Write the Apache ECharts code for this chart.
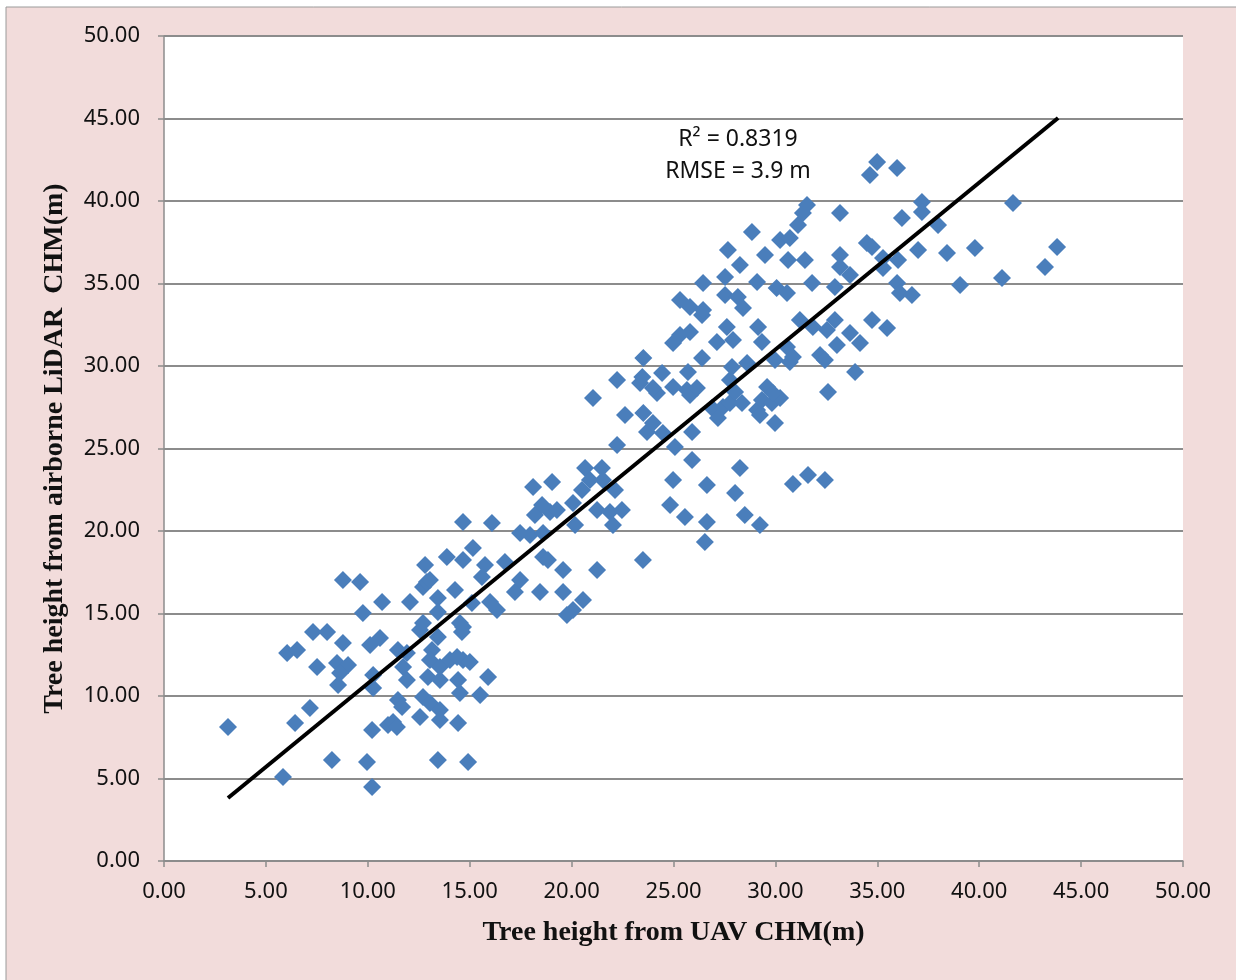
<!DOCTYPE html>
<html>
<head>
<meta charset="utf-8">
<title>UAV vs LiDAR tree height</title>
<script src="https://cdn.jsdelivr.net/npm/echarts@6/dist/echarts.min.js"></script>
<style>
  html, body { margin: 0; padding: 0; background: #ffffff; }
  #chart { width: 1236px; height: 980px; }
</style>
</head>
<body>
<div id="chart"></div>
<script>
  // tree height from UAV CHM (m)
  var uavHeight = [
    3.14, 5.84, 6.04, 6.53, 6.43, 7.16, 7.31, 7.51, 8.00, 8.24, 8.49, 8.78, 8.78, 9.03, 8.64, 8.54,
    9.62, 9.76, 9.96, 10.21, 10.21, 10.11, 10.26, 10.26, 10.60, 10.70, 10.99, 11.24, 11.43, 11.48,
    11.48, 11.68, 11.73, 11.92, 11.92, 12.07, 12.56, 12.56, 12.71, 12.81, 12.90, 12.71, 13.05, 13.15,
    13.05, 12.95, 12.71, 13.05, 13.44, 13.44, 13.44, 13.54, 13.54, 13.54, 13.54, 13.44, 13.88, 14.03,
    14.28, 14.38, 14.43, 14.43, 14.52, 14.62, 14.67, 14.67, 14.67, 14.67, 14.52, 14.92, 15.01, 15.11,
    15.16, 15.51, 15.60, 15.75, 15.90, 16.00, 16.09, 16.34, 16.73, 17.22, 17.47, 17.47, 17.96, 18.11,
    18.20, 18.45, 18.55, 18.60, 18.60, 18.84, 18.94, 19.04, 19.28, 19.58, 19.58, 19.77, 20.07, 20.07,
    20.17, 20.51, 20.56, 20.66, 20.90, 21.05, 21.25, 21.25, 21.49, 21.54, 21.88, 22.03, 22.13, 22.23,
    22.23, 22.47, 22.62, 23.36, 23.52, 23.52, 23.47, 23.50, 23.70, 23.99, 24.19, 23.99, 24.48, 24.44,
    24.98, 24.98, 24.83, 24.98, 25.07, 25.32, 25.32, 25.56, 25.66, 25.71, 25.81, 25.81, 25.81, 25.91,
    25.91, 26.15, 26.40, 26.40, 26.45, 26.45, 26.54, 26.64, 26.64, 26.89, 27.13, 27.18, 27.43, 27.53,
    27.53, 27.62, 27.67, 27.77, 27.77, 27.92, 28.02, 28.02, 28.16, 28.26, 28.26, 28.36, 28.41, 28.50,
    28.61, 28.85, 29.10, 29.10, 29.15, 29.24, 29.24, 29.34, 29.34, 29.49, 29.59, 29.83, 29.98, 29.98,
    30.06, 30.23, 30.23, 30.57, 30.57, 30.62, 30.71, 30.71, 30.86, 30.86, 31.11, 31.20, 31.35, 31.45,
    31.55, 31.60, 31.80, 31.84, 32.19, 32.43, 32.43, 32.53, 32.58, 32.92, 32.92, 33.02, 33.17, 33.17,
    33.17, 33.66, 33.66, 33.91, 34.15, 34.49, 34.74, 34.74, 34.64, 34.99, 35.28, 35.28, 35.48, 35.97,
    36.02, 35.97, 36.11, 36.21, 36.70, 37.00, 37.19, 37.19, 37.98, 38.42, 39.06, 39.79, 41.12, 41.66,
    43.23, 43.82, 27.87, 29.88
  ];
  // tree height from airborne LiDAR CHM (m)
  var lidarHeight = [
    8.12, 5.09, 12.61, 12.79, 8.36, 9.27, 13.88, 11.76, 13.88, 6.12, 12.00, 17.03, 13.21, 11.88, 11.39, 10.67,
    16.91, 15.03, 6.00, 4.48, 7.94, 13.09, 11.27, 10.48, 13.52, 15.70, 8.24, 8.42, 8.12, 12.79,
    9.76, 9.33, 11.76, 10.97, 12.61, 15.70, 14.00, 8.73, 16.61, 17.94, 16.91, 14.42, 17.03, 12.79,
    12.18, 11.15, 9.94, 9.58, 15.94, 15.09, 13.58, 11.76, 10.97, 9.15, 8.55, 6.12, 18.42, 12.18,
    16.42, 12.36, 10.97, 8.36, 14.42, 13.88, 20.55, 18.24, 14.18, 12.18, 10.18, 6.00, 12.06, 15.64,
    18.97, 10.06, 17.21, 17.94, 11.15, 15.70, 20.48, 15.21, 18.12, 16.30, 17.03, 19.88, 19.76, 22.67,
    20.97, 16.30, 21.58, 19.88, 18.42, 18.24, 21.15, 22.97, 21.27, 17.64, 16.30, 14.91, 15.21, 21.70,
    20.36, 22.48, 15.82, 23.82, 23.09, 28.06, 21.27, 17.64, 23.82, 23.09, 21.15, 20.36, 22.48, 25.21,
    29.15, 21.27, 27.03, 28.97, 30.48, 27.15, 29.33, 18.24, 26.00, 26.55, 28.36, 28.67, 25.94, 29.58,
    28.73, 23.09, 21.58, 31.39, 25.09, 34.00, 31.88, 20.85, 28.55, 29.64, 33.58, 32.06, 28.24, 26.00,
    24.30, 28.67, 33.09, 30.48, 35.03, 33.39, 19.33, 22.79, 20.55, 27.45, 31.45, 26.85, 27.52, 35.39,
    34.30, 32.36, 37.03, 29.15, 27.76, 31.58, 28.42, 22.30, 34.18, 36.12, 23.82, 27.76, 33.52, 20.97,
    30.18, 38.12, 35.09, 27.33, 32.36, 27.03, 20.36, 31.45, 27.94, 36.73, 28.73, 27.76, 30.36, 26.55,
    34.73, 37.64, 28.06, 34.42, 31.15, 36.42, 37.76, 30.24, 30.55, 22.85, 38.55, 32.79, 39.27, 36.42,
    39.76, 23.39, 35.03, 32.36, 30.67, 30.36, 23.09, 32.18, 28.42, 34.79, 32.79, 31.27, 39.27, 36.73,
    36.00, 35.52, 32.00, 29.64, 31.39, 37.45, 37.21, 32.79, 41.58, 42.36, 36.55, 35.94, 32.30, 42.00,
    36.42, 35.03, 34.42, 38.97, 34.30, 37.03, 39.94, 39.33, 38.55, 36.85, 34.91, 37.15, 35.33, 39.88,
    36.00, 37.21, 29.94, 28.36
  ];
  // fitted line end points
  var trendX = [3.14, 43.87];
  var trendY = [3.82, 45.03];
  var axisTicks = [0, 5, 10, 15, 20, 25, 30, 35, 40, 45, 50];
  var fitText = ['R² = 0.8319', 'RMSE = 3.9 m'];

  var points = uavHeight.map(function (x, i) { return [x, lidarHeight[i]]; });
  var trendLine = trendX.map(function (x, i) { return [x, trendY[i]]; });

  var gray = '#8c8c8c';
  var tickFont = { color: '#111', fontSize: 22, fontFamily: 'Noto Sans' };
  var nameFont = { color: '#111', fontSize: 28, fontWeight: 'bold', fontFamily: 'Liberation Serif' };

  var myChart = echarts.init(document.getElementById('chart'));
  myChart.setOption({
    animation: false,
    backgroundColor: 'transparent',
    graphic: [
      {
        type: 'rect', z: -10, silent: true,
        shape: { x: 6, y: 7, width: 1260, height: 1000 },
        style: { fill: '#F2DCDB', stroke: '#9a9a9a', lineWidth: 1 }
      },
      {
        type: 'text', x: 738, y: 128, z: 10,
        style: { text: fitText[0], fill: '#111', font: '23px "Noto Sans"', textAlign: 'center' }
      },
      {
        type: 'text', x: 738, y: 160, z: 10,
        style: { text: fitText[1], fill: '#111', font: '23px "Noto Sans"', textAlign: 'center' }
      }
    ],
    grid: {
      left: 164, right: 53, top: 36, bottom: 119,
      show: true, backgroundColor: '#ffffff', borderWidth: 0
    },
    xAxis: {
      type: 'value',
      min: axisTicks[0], max: axisTicks[axisTicks.length - 1], interval: 5,
      name: 'Tree height from UAV CHM(m)',
      nameLocation: 'middle', nameGap: 58,
      nameTextStyle: nameFont,
      axisLine: { show: true, lineStyle: { color: gray, width: 1.5 } },
      axisTick: { show: true, length: 6, lineStyle: { color: gray, width: 1.5 } },
      splitLine: { show: false },
      axisLabel: {
        margin: 20,
        formatter: function (v) { return v.toFixed(2); },
        color: tickFont.color, fontSize: tickFont.fontSize, fontFamily: tickFont.fontFamily
      }
    },
    yAxis: {
      type: 'value',
      min: axisTicks[0], max: axisTicks[axisTicks.length - 1], interval: 5,
      name: 'Tree height from airborne LiDAR  CHM(m)',
      nameLocation: 'middle', nameGap: 95,
      nameTextStyle: nameFont,
      axisLine: { show: true, lineStyle: { color: gray, width: 1.5 } },
      axisTick: { show: true, length: 6, lineStyle: { color: gray, width: 1.5 } },
      splitLine: { show: true, lineStyle: { color: gray, width: 2 } },
      axisLabel: {
        margin: 24,
        formatter: function (v) { return v.toFixed(2); },
        color: tickFont.color, fontSize: tickFont.fontSize, fontFamily: tickFont.fontFamily
      }
    },
    series: [
      {
        name: 'trees',
        type: 'scatter',
        symbol: 'diamond',
        symbolSize: 18,
        itemStyle: { color: '#4A7EBB', opacity: 1 },
        data: points,
        z: 2
      },
      {
        name: 'fit',
        type: 'line',
        data: trendLine,
        showSymbol: false,
        symbol: 'none',
        lineStyle: { color: '#000000', width: 4 },
        z: 3
      }
    ]
  });
</script>
</body>
</html>
